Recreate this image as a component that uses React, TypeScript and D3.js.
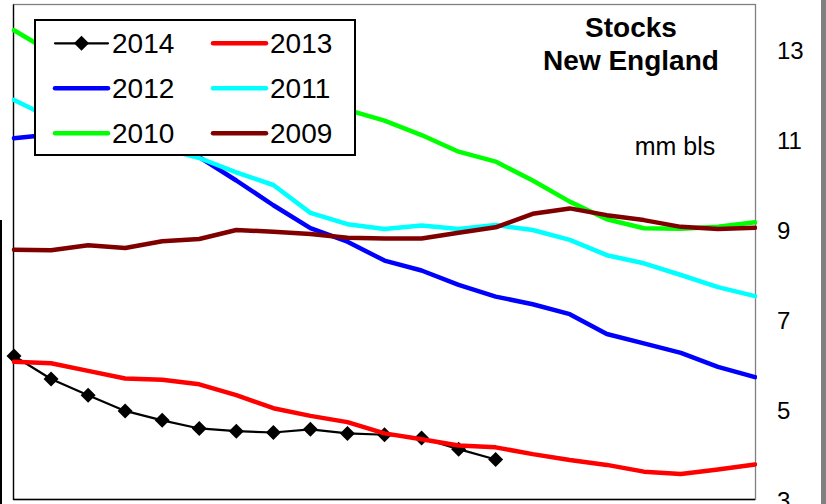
import React from "react";
import * as d3 from "d3";

const weeks = d3.range(21);
const y2014 = [6.2, 5.69, 5.33, 4.98, 4.77, 4.59, 4.53, 4.5, 4.57, 4.48, 4.45, 4.38, 4.13, 3.9];
const y2013 = [6.07, 6.04, 5.87, 5.7, 5.67, 5.57, 5.33, 5.04, 4.87, 4.73, 4.48, 4.35, 4.21, 4.17, 4.02, 3.89, 3.78, 3.63, 3.58, 3.68, 3.79];
const y2012 = [11.04, 11.12, 11.15, 11.1, 10.95, 10.62, 10.1, 9.55, 9.04, 8.74, 8.32, 8.1, 7.78, 7.52, 7.35, 7.13, 6.69, 6.48, 6.27, 5.96, 5.73];
const y2011 = [11.89, 11.49, 11.2, 11.0, 10.82, 10.6, 10.28, 10.0, 9.38, 9.13, 9.02, 9.1, 9.02, 9.11, 9.0, 8.78, 8.44, 8.26, 8.0, 7.73, 7.53];
const y2010 = [13.44, 12.95, 12.7, 12.5, 12.35, 12.2, 12.05, 11.92, 11.8, 11.67, 11.43, 11.11, 10.74, 10.52, 10.1, 9.63, 9.24, 9.04, 9.03, 9.07, 9.17];
const y2009 = [8.56, 8.55, 8.66, 8.6, 8.75, 8.8, 9.0, 8.96, 8.91, 8.83, 8.81, 8.81, 8.94, 9.06, 9.36, 9.48, 9.33, 9.22, 9.07, 9.02, 9.05];
const yTicks = [3, 5, 7, 9, 11, 13];

const seriesNames = ["2014", "2013", "2012", "2011", "2010", "2009"];
const seriesValues = [y2014, y2013, y2012, y2011, y2010, y2009];
const seriesColors = ["#000000", "#FF0000", "#0000FF", "#00FFFF", "#00FF00", "#800000"];

const FONT = "'Liberation Sans', Arial, sans-serif";

export default function App() {
  const W = 826, H = 504;
  const left = 14, right = 755, top = 5, bottom = 500;
  const x = d3.scaleLinear().domain([0, 20]).range([left, right]);
  const y = d3.scaleLinear().domain([3, 14]).range([bottom, top]);
  const line = d3.line<number>().x((_, i) => x(weeks[i])).y((d) => y(d));
  const diamond = (cx: number, cy: number, r: number) =>
    `M${cx},${cy - r}L${cx + r},${cy}L${cx},${cy + r}L${cx - r},${cy}Z`;

  const legendItems = seriesNames.map((n, i) => ({
    name: n,
    color: seriesColors[i],
    col: i % 2,
    row: Math.floor(i / 2),
  }));

  return (
    <svg width={W} height={H} style={{ position: "absolute", left: 0, top: 0, background: "#fff" }} fontFamily={FONT}>
      <rect x={0} y={0} width={W} height={H} fill="#fff" />
      {/* neighbouring chart remnants */}
      <rect x={0} y={220} width={2} height={284} fill="#000" />
      <rect x={821} y={0} width={5} height={H} fill="#808080" />

      {/* plot frame */}
      <rect x={left - 0.5} y={top - 0.5} width={right - left + 1} height={bottom - top} fill="#fff" stroke="#808080" strokeWidth={1.3} />
      <line x1={left - 0.5} x2={left - 0.5} y1={top - 0.5} y2={bottom} stroke="#000" strokeWidth={1.3} />
      <line x1={left - 0.5} x2={right} y1={bottom - 0.5} y2={bottom - 0.5} stroke="#000" strokeWidth={1.3} />

      <defs>
        <clipPath id="plotclip">
          <rect x={left - 10} y={top} width={right - left + 12} height={bottom - top} />
        </clipPath>
      </defs>

      <g clipPath="url(#plotclip)">
        {seriesValues.map((vals, si) => {
          const isMain = si === 0;
          return (
            <g key={seriesNames[si]}>
              <path
                d={line(vals) || ""}
                fill="none"
                stroke={seriesColors[si]}
                strokeWidth={isMain ? 2.2 : 4.5}
                strokeLinejoin="round"
                strokeLinecap="round"
              />
              {isMain &&
                vals.map((v, i) => (
                  <path key={i} d={diamond(x(weeks[i]), y(v), 7.5)} fill="#000" />
                ))}
            </g>
          );
        })}
      </g>

      {/* right axis labels */}
      {yTicks.map((t) => (
        <text key={t} x={777} y={y(t)} dy="0.36em" fontSize={24} fill="#000">
          {t}
        </text>
      ))}

      {/* title */}
      <text x={631} y={37} textAnchor="middle" fontSize={28} fontWeight="bold" fill="#000">Stocks</text>
      <text x={631} y={70} textAnchor="middle" fontSize={28} fontWeight="bold" fill="#000">New England</text>
      <text x={675} y={155} textAnchor="middle" fontSize={25} fill="#000">mm bls</text>

      {/* legend */}
      <rect x={35} y={20} width={320} height={135} fill="#fff" stroke="#000" strokeWidth={2} />
      {legendItems.map((it) => {
        const lx = it.col === 0 ? 55 : 213;
        const ly = 43.3 + it.row * 45;
        const isMain = it.name === "2014";
        return (
          <g key={it.name}>
            <line
              x1={lx}
              x2={lx + 53}
              y1={ly}
              y2={ly}
              stroke={it.color}
              strokeWidth={isMain ? 2.2 : 4.5}
              strokeLinecap="round"
            />
            {isMain && <path d={diamond(lx + 26.5, ly, 7.5)} fill="#000" />}
            <text x={lx + 57} y={ly + 10} fontSize={28} fill="#000">
              {it.name}
            </text>
          </g>
        );
      })}
    </svg>
  );
}
